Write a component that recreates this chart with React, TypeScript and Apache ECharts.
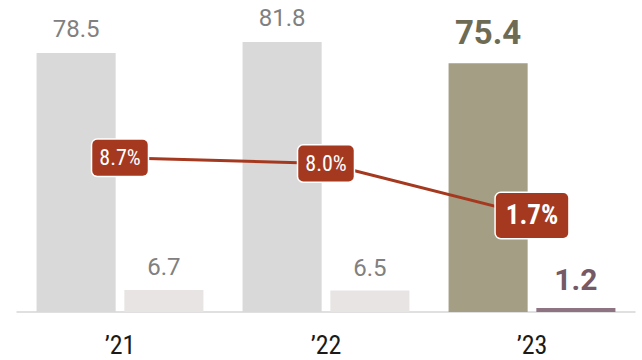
import React, { useEffect, useRef } from "react";
import * as echarts from "echarts";

const categories = ["’21", "’22", "’23"];
const totalValues = [78.5, 81.8, 75.4];
const smallValues = [6.7, 6.5, 1.2];
const ratioValues = [8.7, 8.0, 1.7];

const totalColors = ["#d9d9d9", "#d9d9d9", "#a39e84"];
const smallColors = ["#e8e4e4", "#e8e4e4", "#8e7482"];

const NARROW = "'Liberation Sans Narrow', 'Roboto Condensed', 'Arial Narrow', Roboto, sans-serif";

export default function App() {
  const ref = useRef<HTMLDivElement>(null);
  useEffect(() => {
    if (!ref.current) return;
    const chart = echarts.init(ref.current, undefined, { renderer: "svg" });
    const last = categories.length - 1;
    chart.setOption({
      animation: false,
      grid: { left: 17, right: 7, top: 15, bottom: 48, containLabel: false },
      xAxis: {
        type: "category",
        data: categories,
        axisLine: { lineStyle: { color: "#d6d6d6", width: 1.5 } },
        axisTick: { show: false },
        axisLabel: { color: "#1a1a1a", fontSize: 26, fontFamily: NARROW, margin: 20 },
      },
      yAxis: [
        { type: "value", min: 0, max: 90, show: false, splitLine: { show: false } },
        { type: "value", min: -10, max: 26, show: false, splitLine: { show: false } },
      ],
      series: [
        {
          type: "bar",
          barCategoryGap: "19%",
          barGap: "11%",
          data: totalValues.map((v, i) => ({
            value: v,
            itemStyle: { color: totalColors[i] },
            label:
              i === last
                ? { color: "#6e6b55", fontSize: 33, fontWeight: "bold", distance: 14 }
                : {},
          })),
          label: {
            show: true,
            position: "top",
            distance: 12,
            color: "#808080",
            fontSize: 24,
            fontFamily: "Roboto, sans-serif",
          },
        },
        {
          type: "bar",
          data: smallValues.map((v, i) => ({
            value: v,
            itemStyle: { color: smallColors[i] },
            label:
              i === last
                ? { color: "#735a66", fontSize: 30, fontWeight: "bold", distance: 14 }
                : {},
          })),
          label: {
            show: true,
            position: "top",
            distance: 11,
            color: "#808080",
            fontSize: 24,
            fontFamily: "Roboto, sans-serif",
          },
        },
        {
          type: "line",
          yAxisIndex: 1,
          z: 5,
          symbol: "circle",
          symbolSize: 1,
          lineStyle: { color: "#a5391f", width: 3 },
          itemStyle: { color: "#a5391f" },
          data: ratioValues.map((v, i) => ({
            value: v,
            label:
              i === last
                ? { fontSize: 27, fontWeight: "bold", padding: [10, 10, 8, 10] }
                : {},
          })),
          label: {
            show: true,
            position: "inside",
            formatter: (p: any) => Number(p.value).toFixed(1) + "%",
            color: "#ffffff",
            fontSize: 22,
            fontFamily: NARROW,
            backgroundColor: "#a5391f",
            borderColor: "#ffffff",
            borderWidth: 1.5,
            borderRadius: 5,
            padding: [8, 7, 6, 7],
          },
        },
      ],
    });
    return () => chart.dispose();
  }, []);
  return (
    <div
      ref={ref}
      style={{ position: "absolute", left: 0, top: 0, width: 642, height: 360 }}
    />
  );
}
